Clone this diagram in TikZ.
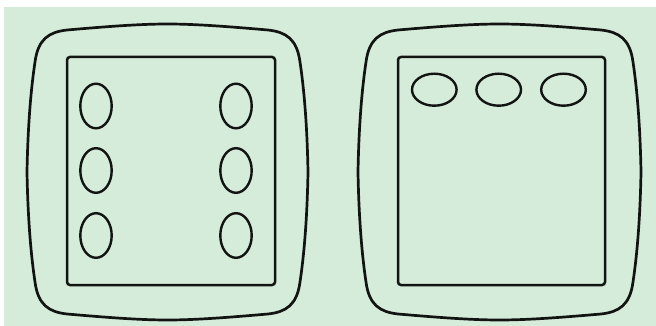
\documentclass[tikz,border=0pt]{standalone}
\definecolor{bg}{RGB}{214,236,218}
\definecolor{ink}{RGB}{18,20,18}
\tikzset{
  outerline/.style={draw=ink,line width=2.7pt,line join=round,line cap=round},
  innerline/.style={draw=ink,line width=2.5pt,rounded corners=3pt},
  hole/.style={draw=ink,line width=2.4pt}
}
\newcommand{\pillowshape}[4]{%
  \begin{scope}[shift={(#1,#2)}]
    \def\a{#3}\def\b{#4}
    \draw[outerline]
      ({-\a},0) .. controls ({-\a+1},-55) and ({-\a+5},{-\b+58}) .. ({-\a+8},{-\b+38})
      .. controls ({-\a+11},{-\b+15}) and ({-\a+22},{-\b+8}) .. ({-\a+40},{-\b+6})
      .. controls ({-\a+75},{-\b+3}) and (-30,{-\b}) .. (0,{-\b})
      .. controls (30,{-\b}) and ({\a-75},{-\b+3}) .. ({\a-40},{-\b+6})
      .. controls ({\a-22},{-\b+8}) and ({\a-11},{-\b+15}) .. ({\a-8},{-\b+38})
      .. controls ({\a-5},{-\b+58}) and ({\a-1},-55) .. ({\a},0)
      .. controls ({\a-1},55) and ({\a-5},{\b-58}) .. ({\a-8},{\b-38})
      .. controls ({\a-11},{\b-15}) and ({\a-22},{\b-8}) .. ({\a-40},{\b-6})
      .. controls ({\a-75},{\b-3}) and (30,{\b}) .. (0,{\b})
      .. controls (-30,{\b}) and ({-\a+75},{\b-3}) .. ({-\a+40},{\b-6})
      .. controls ({-\a+22},{\b-8}) and ({-\a+11},{\b-15}) .. ({-\a+8},{\b-38})
      .. controls ({-\a+5},{\b-58}) and ({-\a+1},55) .. ({-\a},0) -- cycle;
  \end{scope}}
\begin{document}
\begin{tikzpicture}[x=1pt,y=-1pt]
  \useasboundingbox (0,0) rectangle (656,326);
  \fill[white] (0,0) rectangle (656,326);
  \fill[bg] (4,7) rectangle (656,326);
  % left unit
  \pillowshape{167.5}{172}{140.5}{148}
  \draw[innerline] (67,57) rectangle (275,285);
  \foreach \y in {106,170.5,235.5}{
    \draw[hole] (96,\y) ellipse [x radius=15.7, y radius=22.3];
    \draw[hole] (236,\y) ellipse [x radius=15.7, y radius=22.3];
  }
  % right unit
  \pillowshape{499.5}{172}{141.5}{148}
  \draw[innerline] (398,57) rectangle (605,285);
  \foreach \x in {434.3,498.7,563.5}{
    \draw[hole] (\x,89.7) ellipse [x radius=22.3, y radius=16];
  }
\end{tikzpicture}
\end{document}
